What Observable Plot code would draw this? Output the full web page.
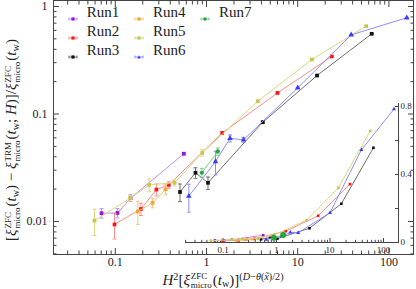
<!DOCTYPE html>
<html><head><meta charset="utf-8">
<script src="https://cdn.jsdelivr.net/npm/d3@7"></script>
<script src="https://cdn.jsdelivr.net/npm/@observablehq/plot@0.6"></script>
<style>
body{margin:0;background:#fff;}
#wrap{position:relative;width:416px;height:289px;overflow:hidden;font-family:"Liberation Serif","Times New Roman",Times,"DejaVu Serif",serif;color:#222;}
#wrap #main{position:absolute;left:0;top:0;}
#wrap #inset{position:absolute;left:175px;top:95px;}
.legt{position:absolute;font-size:15px;line-height:15px;white-space:nowrap;}
.legm{position:absolute;}
.lab{position:absolute;white-space:nowrap;font-size:15px;line-height:1;}
.lab i{font-style:italic;}
.ss{display:inline-block;vertical-align:-0.42em;font-size:0.6em;line-height:1.05;text-align:left;margin-left:1px;margin-right:1px;}
.ss span{display:block;}
.sp{font-size:0.68em;vertical-align:0.5em;line-height:0;}
.sb{font-size:0.68em;vertical-align:-0.25em;line-height:0;}
#ylab{left:13px;top:140px;transform-origin:0 0;transform:rotate(-90deg) translate(-50%,-50%);}
#xlab{left:223px;top:272px;transform:translateX(-50%);}
</style></head><body><div id="wrap"></div>
<script>
const runs = ["Run1","Run2","Run3","Run4","Run5","Run6","Run7"];
const markColors = ["#9414e6","#ff1414","#111111","#f5a62a","#c9c64c","#3c3cff","#22a63a"];
const lineColors = ["#c48cf2","#ff8c8c","#707070","#f8c47c","#d9d77e","#8e8eff","#78cf84"];

const run1X = [0.0706, 0.1057, 0.147, 0.564];
const run1Y = [0.01195, 0.0120, 0.0165, 0.0427];
const run1E = [0.0012, 0.0012, 0.0012, 0.0010];
const run2X = [0.098, 0.191, 0.282, 0.386, 1.486, 6.0, 23.6];
const run2Y = [0.00938, 0.01306, 0.0198, 0.0219, 0.0666, 0.157, 0.343];
const run2E = [0.0025, 0.0017, 0.0025, 0.0015, 0.002, 0.002, 0.003];
const run3X = [0.512, 0.757, 1.038, 4.14, 16.3, 64.8];
const run3Y = [0.0188, 0.0284, 0.0229, 0.0839, 0.228, 0.557];
const run3E = [0.0035, 0.0032, 0.003, 0.002, 0.002, 0.003];
const run4X = [0.1766, 0.256, 0.355];
const run4Y = [0.0124, 0.0149, 0.0199];
const run4E = [0.003, 0.0015, 0.0022];
const run5X = [0.0591, 0.146, 0.235, 0.446, 0.897, 3.65, 14.3, 56.4];
const run5Y = [0.0102, 0.0165, 0.0219, 0.0229, 0.0435, 0.1315, 0.321, 0.656];
const run5E = [0.0028, 0.001, 0.003, 0.0015, 0.003, 0.002, 0.002, 0.003];
const run6X = [0.640, 1.255, 1.81, 2.545, 10.0, 38.6, 157];
const run6Y = [0.0172, 0.0361, 0.0594, 0.0575, 0.175, 0.545, 0.785];
const run6E = [0.005, 0.009, 0.0045, 0.003, 0.002, 0.003, 0.003];
const run7X = [0.89, 1.33];
const run7Y = [0.0284, 0.0448];
const run7E = [0.0028, 0.0035];

const xTicks = [0.1, 1, 10, 100];
const xTickLabels = ["0.1", "1", "10", "100"];
const yTicks = [0.01, 0.1, 1];
const yTickLabels = ["0.01", "0.1", "1"];
const insetYTicks = [0, 0.4, 0.8];
const insetYTickLabels = ["0", "0.4", "0.8"];
const insetYMinor = [0.2, 0.6];

const seriesX = [run1X, run2X, run3X, run4X, run5X, run6X, run7X];
const seriesY = [run1Y, run2Y, run3Y, run4Y, run5Y, run6Y, run7Y];
const seriesE = [run1E, run2E, run3E, run4E, run5E, run6E, run7E];
const series = runs.map((r, i) => seriesX[i].map((x, j) => ({run: r, x, y: seriesY[i][j], e: seriesE[i][j]})));

function minorLog(lo, hi) {
  const out = [];
  for (let p = Math.floor(Math.log10(lo)); p <= Math.ceil(Math.log10(hi)); p++)
    for (let k = 2; k <= 9; k++) { const v = k * Math.pow(10, p); if (v >= lo && v <= hi) out.push(v); }
  return out;
}
const capSym = {draw(ctx, size) { const w = Math.sqrt(size) / 2; ctx.moveTo(-w, 0); ctx.lineTo(w, 0); }};
const FONT = '"Liberation Serif","Times New Roman",Times,"DejaVu Serif",serif';

const xDom = [0.021, 186], yDom = [0.00493, 1.137];
const tickCol = "#444";
const mainMarks = [Plot.frame({stroke: tickCol})];
for (const a of ["bottom", "top"]) {
  mainMarks.push(Plot.axisX({anchor: a, ticks: xTicks, tickSize: -6, text: null, stroke: tickCol, label: null}));
  mainMarks.push(Plot.axisX({anchor: a, ticks: minorLog(xDom[0], xDom[1]), tickSize: -3.5, text: null, stroke: tickCol, label: null}));
}
for (const a of ["left", "right"]) {
  mainMarks.push(Plot.axisY({anchor: a, ticks: yTicks, tickSize: -6, text: null, stroke: tickCol, label: null}));
  mainMarks.push(Plot.axisY({anchor: a, ticks: minorLog(yDom[0], yDom[1]), tickSize: -3.5, text: null, stroke: tickCol, label: null}));
}
mainMarks.push(Plot.axisX({anchor: "bottom", ticks: xTicks, tickSize: 0, tickPadding: 3, fontSize: 12, fill: "#222", label: null,
  tickFormat: d => xTickLabels[xTicks.indexOf(d)]}));
mainMarks.push(Plot.axisY({anchor: "left", ticks: yTicks, tickSize: 0, tickPadding: 6, fontSize: 12, fill: "#222", label: null,
  tickFormat: d => yTickLabels[yTicks.indexOf(d)]}));

series.forEach((data, i) => {
  mainMarks.push(Plot.line(data, {x: "x", y: "y", stroke: lineColors[i], strokeWidth: 1, clip: true}));
  mainMarks.push(Plot.ruleX(data, {x: "x", y1: d => d.y - d.e, y2: d => d.y + d.e, stroke: lineColors[i], strokeWidth: 1, clip: true}));
  mainMarks.push(Plot.dot(data, {x: "x", y: d => d.y - d.e, symbol: capSym, r: 2.2, stroke: lineColors[i], strokeWidth: 1, clip: true}));
  mainMarks.push(Plot.dot(data, {x: "x", y: d => d.y + d.e, symbol: capSym, r: 2.2, stroke: lineColors[i], strokeWidth: 1, clip: true}));
  mainMarks.push(Plot.dot(data, {x: "x", y: "y", symbol: i === 5 ? "triangle" : (i === 6 ? "circle" : "square"), r: 2.1, fill: markColors[i], stroke: "none", clip: true}));
});

const main = Plot.plot({
  width: 416, height: 289, marginLeft: 53, marginRight: 3, marginTop: 0, marginBottom: 35,
  x: {type: "log", domain: xDom, label: null},
  y: {type: "log", domain: yDom, label: null},
  style: {fontFamily: FONT, fontSize: "12px", background: "#fff", overflow: "visible"},
  marks: mainMarks
});
main.id = "main";

const ixDom = [0.0199, 190.7], iyDom = [0, 0.8176];
const insetMarks = [
  Plot.ruleY([iyDom[0]], {stroke: tickCol}),
  Plot.ruleX([ixDom[1]], {stroke: tickCol}),
  Plot.axisX({anchor: "bottom", ticks: xTicks, tickSize: -4, text: null, stroke: tickCol, label: null}),
  Plot.axisX({anchor: "bottom", ticks: minorLog(ixDom[0], ixDom[1]), tickSize: -2.2, text: null, stroke: tickCol, label: null}),
  Plot.axisX({anchor: "bottom", ticks: xTicks, tickSize: 0, tickPadding: 4, fontSize: 9, fill: "#222", label: null,
    tickFormat: d => xTickLabels[xTicks.indexOf(d)]}),
  Plot.axisY({anchor: "right", ticks: insetYTicks, tickSize: -4, text: null, stroke: tickCol, label: null}),
  Plot.axisY({anchor: "right", ticks: insetYMinor, tickSize: -4, text: null, stroke: tickCol, label: null}),
  Plot.axisY({anchor: "right", ticks: insetYTicks, tickSize: 0, tickPadding: 2, fontSize: 9, fill: "#222", label: null,
    tickFormat: d => insetYTickLabels[insetYTicks.indexOf(d)]})
];
series.forEach((data, i) => {
  insetMarks.push(Plot.line(data, {x: "x", y: "y", stroke: lineColors[i], strokeWidth: 1}));
  insetMarks.push(Plot.dot(data, {x: "x", y: "y", symbol: i === 5 ? "triangle" : (i === 6 ? "circle" : "square"), r: i === 6 ? 3 : 1.5, fill: markColors[i], stroke: "none"}));
});
const inset = Plot.plot({
  width: 241, height: 170, marginLeft: 10, marginRight: 18, marginTop: 8, marginBottom: 23,
  x: {type: "log", domain: ixDom, label: null},
  y: {domain: iyDom, label: null},
  style: {fontFamily: FONT, fontSize: "9px", background: "transparent", overflow: "visible"},
  marks: insetMarks
});
inset.id = "inset";

const wrap = document.getElementById("wrap");
wrap.appendChild(main);
wrap.appendChild(inset);

const legPos = [[72.7, 13], [72.7, 32], [72.7, 50.7], [139, 13], [139, 32], [139, 50.7], [205, 13]];
runs.forEach((r, i) => {
  const [cx, cy] = legPos[i];
  const m = document.createElement("div");
  m.className = "legm";
  m.style.left = (cx - 5) + "px"; m.style.top = (cy - 4) + "px";
  const shape = i === 5 ? `<path d="M5,2.2 L6.8,5.4 L3.2,5.4Z" fill="${markColors[i]}"/>` :
    (i === 6 ? `<circle cx="5" cy="4" r="1.8" fill="${markColors[i]}"/>` : `<rect x="3.4" y="2.4" width="3.2" height="3.2" fill="${markColors[i]}"/>`);
  m.innerHTML = `<svg width="10" height="8"><path d="M1,4H9M1,2.5V5.5M9,2.5V5.5" stroke="${lineColors[i]}" fill="none"/>${shape}</svg>`;
  wrap.appendChild(m);
  const t = document.createElement("div");
  t.className = "legt"; t.textContent = r;
  t.style.left = (cx + 14) + "px"; t.style.top = (cy - 7.6) + "px";
  wrap.appendChild(t);
});

const ss = (a, b) => `<span class="ss"><span>${a}</span><span>${b}</span></span>`;
const xi = (a) => `<i>ξ</i>${ss(a, "micro")}`;
const tw = `(<i>t</i><span class="sb">w</span>)`;
const ylab = document.createElement("div");
ylab.className = "lab"; ylab.id = "ylab";
ylab.innerHTML = `[${xi("ZFC")}${tw} − ${xi("TRM")}(<i>t</i><span class="sb">w</span>; <i>H</i>)]/${xi("ZFC")}${tw}`;
wrap.appendChild(ylab);
const xlab = document.createElement("div");
xlab.className = "lab"; xlab.id = "xlab";
xlab.innerHTML = `<i>H</i><span class="sp">2</span>[${xi("ZFC")}${tw}]<span class="sp">(<i>D</i>−<i>θ</i>(<i>x̃</i>)/2)</span>`;
wrap.appendChild(xlab);
</script>
</body></html>
